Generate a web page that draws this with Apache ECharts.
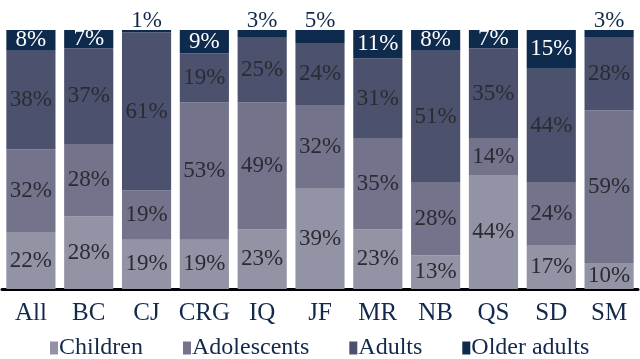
<!DOCTYPE html>
<html>
<head>
<meta charset="utf-8">
<script src="https://cdn.jsdelivr.net/npm/echarts@6/dist/echarts.min.js"></script>
<style>
  html, body { margin: 0; padding: 0; background: #fff; }
  #chart { width: 640px; height: 359px; }
</style>
</head>
<body>
<div id="chart"></div>
<script>
const categories = ['All', 'BC', 'CJ', 'CRG', 'IQ', 'JF', 'MR', 'NB', 'QS', 'SD', 'SM']
const children = [22, 28, 19, 19, 23, 39, 23, 13, 44, 17, 10]
const adolescents = [32, 28, 19, 53, 49, 32, 35, 28, 14, 24, 59]
const adults = [38, 37, 61, 19, 25, 24, 31, 51, 35, 44, 28]
const olderAdults = [8, 7, 1, 9, 3, 5, 11, 8, 7, 15, 3]

const font = 'Liberation Serif'
const navy = '#13294b'

// 分组配色
const colors = {
  children: '#9393a6',
  adolescents: '#73738c',
  adults: '#4c526d',
  older: '#0e2a4c',
}

const innerLabel = {
  show: true,
  position: 'inside',
  color: '#2b2b33',
  fontFamily: font,
  fontSize: 23,
  formatter: '{c}%',
}

const chart = echarts.init(document.getElementById('chart'))

chart.setOption({
  animation: false,
  grid: { left: 2, right: 2, top: 30, bottom: 70, containLabel: false },
  legend: {
    bottom: -6,
    left: 45,
    itemWidth: 8,
    itemHeight: 13,
    itemGap: 40,
    icon: 'rect',
    textStyle: { fontFamily: font, fontSize: 24, color: navy, padding: [0, 0, 0, -4] },
    data: ['Children', 'Adolescents', 'Adults', 'Older adults'],
  },
  xAxis: {
    type: 'category',
    data: categories,
    axisLine: { lineStyle: { color: '#000', width: 3 } },
    axisTick: { show: false },
    axisLabel: { interval: 0, fontFamily: font, fontSize: 25, color: navy, margin: 12 },
  },
  yAxis: {
    type: 'value',
    min: 0,
    max: 100,
    show: false,
  },
  series: [
    {
      name: 'Children',
      type: 'bar',
      stack: 'total',
      barCategoryGap: '15%',
      itemStyle: { color: colors.children },
      label: innerLabel,
      data: children,
    },
    {
      name: 'Adolescents',
      type: 'bar',
      stack: 'total',
      itemStyle: { color: colors.adolescents },
      label: innerLabel,
      data: adolescents,
    },
    {
      name: 'Adults',
      type: 'bar',
      stack: 'total',
      itemStyle: { color: colors.adults },
      label: innerLabel,
      data: adults,
    },
    {
      name: 'Older adults',
      type: 'bar',
      stack: 'total',
      itemStyle: { color: colors.older },
      // 小数值标签放到柱顶上方
      data: olderAdults.map((v) => ({
        value: v,
        label: v < 6
          ? { show: true, position: 'top', distance: -2, color: navy, fontFamily: font, fontSize: 23, formatter: '{c}%' }
          : { show: true, position: 'inside', color: '#fff', fontFamily: font, fontSize: 23, formatter: '{c}%' },
      })),
    },
  ],
})
</script>
</body>
</html>
